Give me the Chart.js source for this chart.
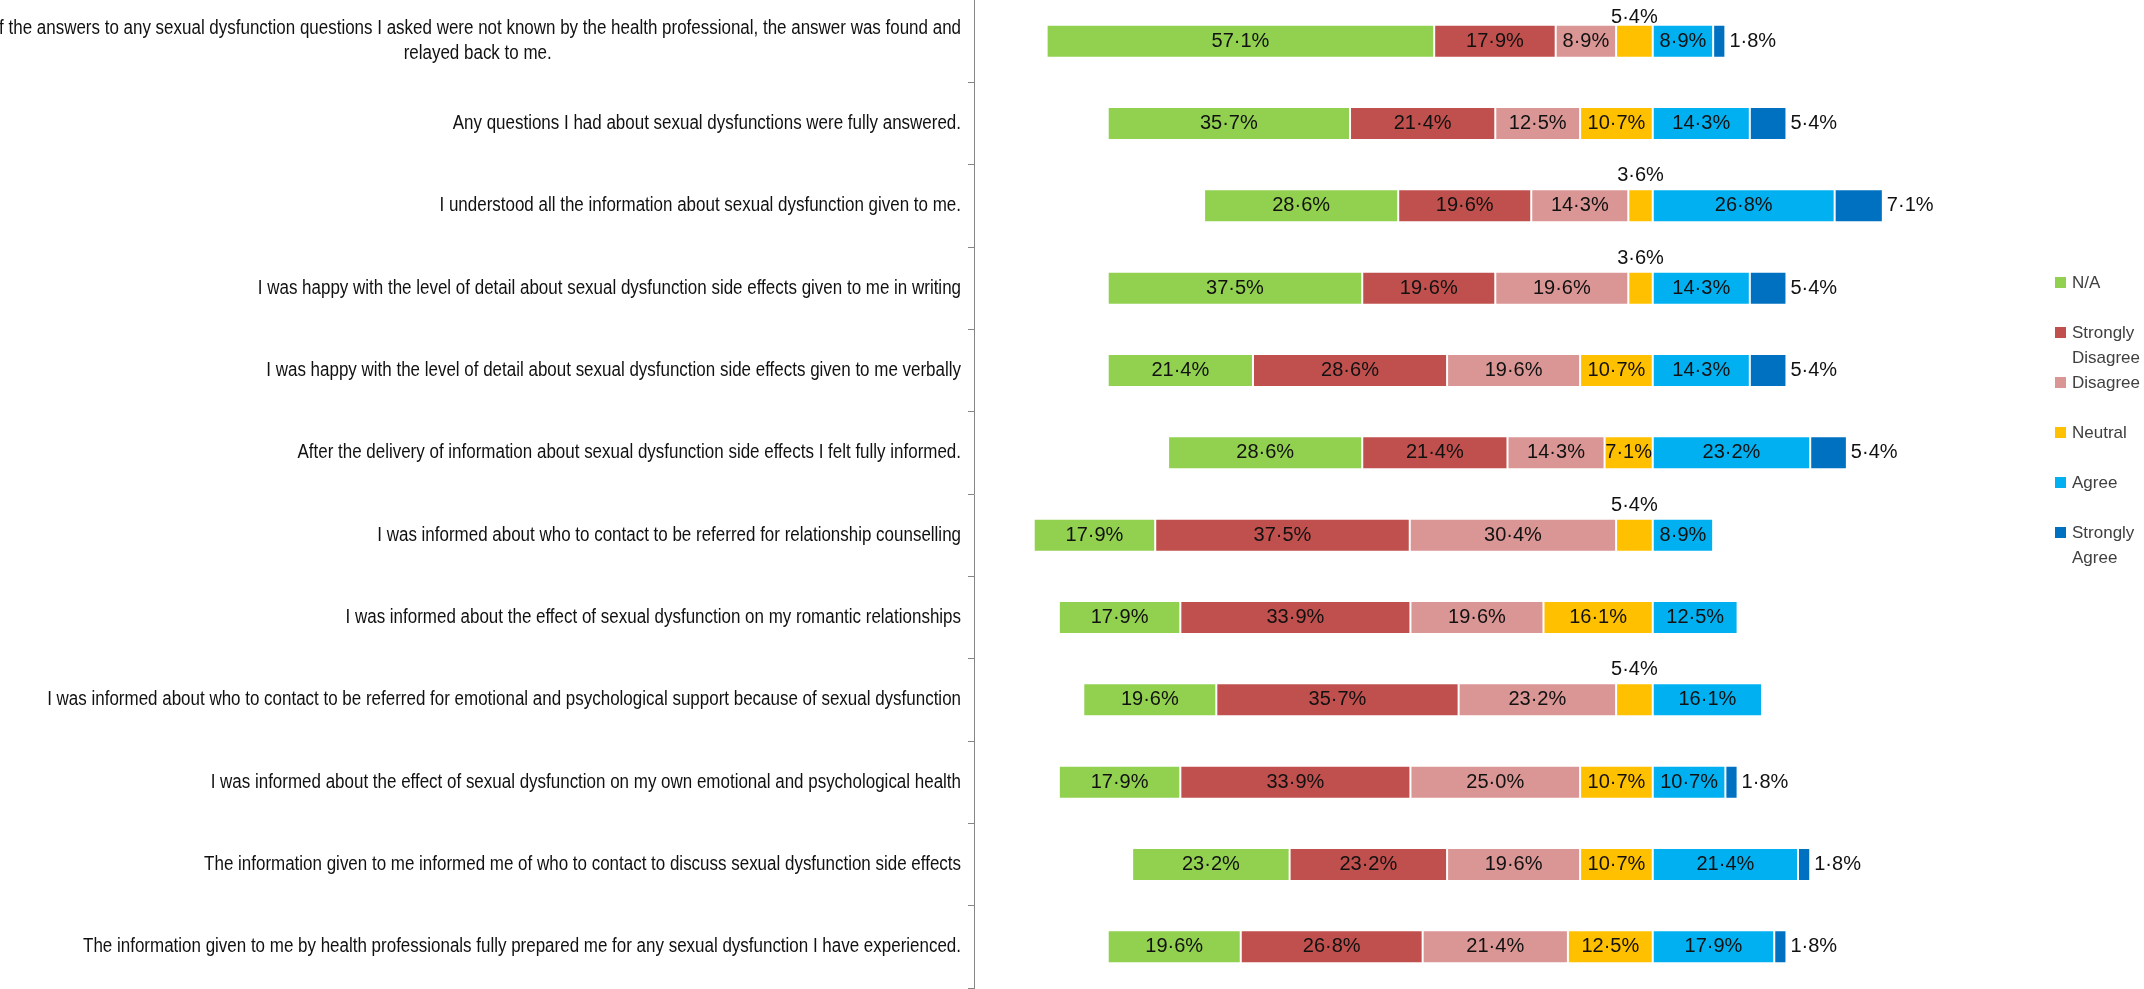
<!DOCTYPE html>
<html>
<head>
<meta charset="utf-8">
<script src="https://cdn.jsdelivr.net/npm/chart.js@4.4.1/dist/chart.umd.min.js"></script>
<style>
  html, body { margin: 0; padding: 0; background: #fff; }
  #wrap { position: relative; width: 2144px; height: 989px; overflow: hidden; }
  #legend {
    position: absolute; left: 2055px; top: 270px;
    font-family: 'Liberation Sans', Arial, sans-serif; font-size: 17px; color: #404040;
  }
  .item { position: relative; height: 50px; line-height: 25px; padding-left: 17px; width: 75px; }
  .item .box { position: absolute; left: 0; top: 7px; width: 11px; height: 11px; }
</style>
</head>
<body>
<div id="wrap">
  <canvas id="chart" width="2144" height="989"></canvas>
  <div id="legend"></div>
</div>
<script>
// survey statements, top to bottom
const questions = [
  ['If the answers to any sexual dysfunction questions I asked were not known by the health professional, the answer was found and',
   'relayed back to me.'],
  'Any questions I had about sexual dysfunctions were fully answered.',
  'I understood all the information about sexual dysfunction given to me.',
  'I was happy with the level of detail about sexual dysfunction side effects given to me in writing',
  'I was happy with the level of detail about sexual dysfunction side effects given to me verbally',
  'After the delivery of information about sexual dysfunction side effects I felt fully informed.',
  'I was informed about who to contact to be referred for relationship counselling',
  'I was informed about the effect of sexual dysfunction on my romantic relationships',
  'I was informed about who to contact to be referred for emotional and psychological support because of sexual dysfunction',
  'I was informed about the effect of sexual dysfunction on my own emotional and psychological health',
  'The information given to me informed me of who to contact to discuss sexual dysfunction side effects',
  'The information given to me by health professionals fully prepared me for any sexual dysfunction I have experienced.'
];

// percentages per answer
const naVals       = [57.1, 35.7, 28.6, 37.5, 21.4, 28.6, 17.9, 17.9, 19.6, 17.9, 23.2, 19.6];
const strDisVals   = [17.9, 21.4, 19.6, 19.6, 28.6, 21.4, 37.5, 33.9, 35.7, 33.9, 23.2, 26.8];
const disagreeVals = [ 8.9, 12.5, 14.3, 19.6, 19.6, 14.3, 30.4, 19.6, 23.2, 25.0, 19.6, 21.4];
const neutralVals  = [ 5.4, 10.7,  3.6,  3.6, 10.7,  7.1,  5.4, 16.1,  5.4, 10.7, 10.7, 12.5];
const agreeVals    = [ 8.9, 14.3, 26.8, 14.3, 14.3, 23.2,  8.9, 12.5, 16.1, 10.7, 21.4, 17.9];
const strAgrVals   = [ 1.8,  5.4,  7.1,  5.4,  5.4,  5.4,  0,    0,    0,    1.8,  1.8,  1.8];

const series = [
  { name: 'N/A',               values: naVals,       color: '#92D050', left: true },
  { name: 'Strongly Disagree', values: strDisVals,   color: '#C0504D', left: true },
  { name: 'Disagree',          values: disagreeVals, color: '#DA9694', left: true },
  { name: 'Neutral',           values: neutralVals,  color: '#FFC000', left: true },
  { name: 'Agree',             values: agreeVals,    color: '#00B0F0', left: false },
  { name: 'Strongly Agree',    values: strAgrVals,   color: '#0070C0', left: false }
];

// negative side stacks outward from zero, so neutral goes first
const stackOrder = [3, 2, 1, 0, 4, 5];

const AXIS_X = 974;
const FONT = '"Liberation Sans", Arial, sans-serif';
const SQUEEZE = 0.87; // question text is a narrow face in the original

const fmt = v => v.toFixed(1).replace('.', '\u00B7') + '%';

const datasets = stackOrder.map(k => {
  const s = series[k];
  return {
    label: s.name,
    data: s.values.map(v => s.left ? -v : v),
    backgroundColor: s.color,
    borderColor: 'rgba(255,255,255,0.55)',
    borderWidth: 1,
    borderSkipped: false,
    seriesIndex: k
  };
});

const yLabelPlugin = {
  id: 'yLabels',
  afterDraw(chart) {
    const ctx = chart.ctx;
    const ys = chart.scales.y;
    ctx.save();
    ctx.font = '19.5px ' + FONT;
    ctx.fillStyle = '#111';
    ctx.textAlign = 'center';
    ctx.textBaseline = 'middle';
    questions.forEach((q, i) => {
      const lines = Array.isArray(q) ? q : [q];
      const y = ys.getPixelForTick(i);
      const widths = lines.map(l => ctx.measureText(l).width * SQUEEZE);
      const w = Math.max(...widths);
      const cx = ys.right - 13 - w / 2;
      lines.forEach((l, k) => {
        ctx.fillText(l, cx, y + (k - (lines.length - 1) / 2) * 25, widths[k]);
      });
    });
    ctx.restore();
  }
};

const segLabelPlugin = {
  id: 'segLabels',
  afterDatasetsDraw(chart) {
    const ctx = chart.ctx;
    ctx.save();
    ctx.font = '20px ' + FONT;
    ctx.fillStyle = '#111';
    chart.data.datasets.forEach((ds, di) => {
      const s = series[ds.seriesIndex];
      chart.getDatasetMeta(di).data.forEach((bar, i) => {
        const v = s.values[i];
        if (!v) return;
        const p = bar.getProps(['x', 'y', 'base', 'height'], true);
        const l = Math.min(p.x, p.base), r = Math.max(p.x, p.base);
        if (s.name === 'Strongly Agree') {
          ctx.textAlign = 'left';
          ctx.textBaseline = 'middle';
          ctx.fillText(fmt(v), r + 4, p.y);
        } else if (s.name === 'Neutral' && v < 7) {
          // small neutral share goes above the bar, kept inside the chart
          ctx.textAlign = 'center';
          ctx.textBaseline = 'alphabetic';
          ctx.fillText(fmt(v), (l + r) / 2, Math.max(p.y - p.height / 2 - 8, 23));
        } else {
          ctx.textAlign = 'center';
          ctx.textBaseline = 'middle';
          ctx.fillText(fmt(v), (l + r) / 2, p.y);
        }
      });
    });
    ctx.restore();
  }
};

new Chart(document.getElementById('chart'), {
  type: 'bar',
  data: { labels: questions, datasets: datasets },
  options: {
    indexAxis: 'y',
    responsive: false,
    animation: false,
    categoryPercentage: 0.4,
    barPercentage: 1,
    layout: { padding: { left: 0, right: 84, top: 0, bottom: 1 } },
    scales: {
      x: { display: false, stacked: true, min: -100, max: 60 },
      y: {
        stacked: true,
        grid: { drawOnChartArea: false, drawTicks: true, tickLength: 6, color: '#868686', offset: true },
        border: { display: true, color: '#868686', width: 1 },
        ticks: { display: false },
        afterFit: s => { s.width = AXIS_X; }
      }
    },
    plugins: {
      legend: { display: false },
      tooltip: { enabled: false }
    }
  },
  plugins: [yLabelPlugin, segLabelPlugin]
});

// legend in the original series order
const legend = document.getElementById('legend');
series.forEach(s => {
  const item = document.createElement('div');
  item.className = 'item';
  item.innerHTML = `<span class="box" style="background:${s.color}"></span>${s.name}`;
  legend.appendChild(item);
});
</script>
</body>
</html>
